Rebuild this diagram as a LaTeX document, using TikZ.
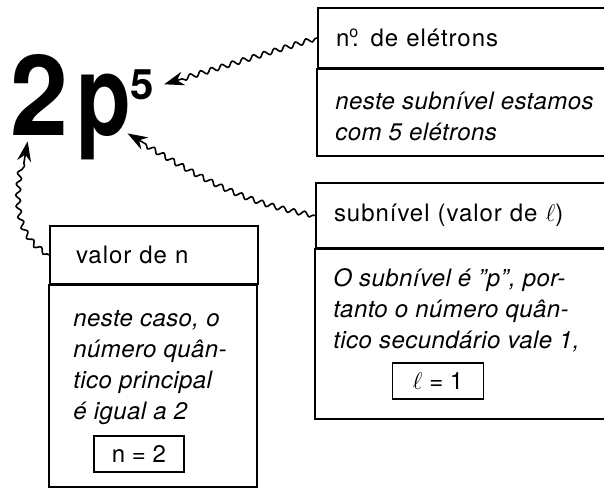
\documentclass[tikz,border=0pt]{standalone}
\usepackage{fontspec}
\setmainfont{TeX Gyre Heros}
\usetikzlibrary{arrows.meta,positioning,decorations.pathmorphing}

\begin{document}
\begin{tikzpicture}[x=0.5pt,y=0.5pt,
  box/.style={draw, line width=1pt},
  titlebox/.style={box, anchor=north west, inner xsep=9pt, inner ysep=0pt, align=left,
    font=\addfontfeature{LetterSpace=4}\fontsize{12}{15.5}\selectfont},
  bodytxt/.style={anchor=north west, inner sep=0pt, align=left,
    font=\itshape\addfontfeature{LetterSpace=1.8}\fontsize{12}{15.5}\selectfont},
  valbox/.style={draw, line width=0.7pt, minimum height=18pt, inner sep=0pt,
    font=\fontsize{12}{14}\selectfont},
  big/.style={anchor=base west, inner sep=0pt, font=\bfseries\fontsize{56}{56}\selectfont},
  wavy/.style={line width=0.8pt, -{Stealth[length=10pt,width=7pt]}, decorate,
    decoration={snake, amplitude=1.2pt, segment length=5.5pt, pre length=1pt, post length=9pt}}]

  \useasboundingbox (0,0) rectangle (604,-487);
  \clip (0,0) rectangle (604,-487);

  % the configuration 2p5
  \node[big] (num) at (10,-135) {\scalebox{0.93}[1]{2}};
  \node[big] (sub) at (76,-135) {\scalebox{0.8}[1]{p}};
  \node[anchor=base west, inner sep=0pt, font=\bfseries\fontsize{21}{21}\selectfont] (ele) at (130,-99) {5};

  % number of electrons
  \node[titlebox, text width=132pt, minimum height=30pt] (eTit) at (317,-7)
    {n\textsuperscript{o}\kern-.3em. de elétrons};
  \draw[box] (eTit.south west) rectangle ++(300,-87);
  \node[bodytxt] (eTxt) at (335,-92) {neste subnível estamos\\com 5 elétrons};

  % subshell
  \node[titlebox, text width=132pt, minimum height=32.5pt] (lTit) at (315,-182)
    {subnível (valor de $\ell$)};
  \draw[box] (lTit.south west) rectangle ++(300,-170);
  \node[bodytxt] (lTxt) at (333,-268)
    {O subnível é ''p'', por-\\tanto o número quân-\\tico secundário vale 1,};
  \node[valbox, minimum width=45.5pt] (lVal) at (438,-381) {$\ell$~=~1};

  % principal number
  \node[titlebox, inner xsep=13pt, text width=78pt, minimum height=29pt] (nTit) at (49,-225)
    {valor de n};
  \draw[box] (nTit.south west) rectangle ++(208,-202);
  \node[bodytxt] (nTxt) at (73,-310)
    {neste caso, o\\número quân-\\tico principal\\é igual a 2};
  \node[valbox, minimum width=45pt] (nVal) at (139,-454) {n~=~2};

  % wavy pointers
  \draw[wavy] (eTit.west) -- ([xshift=5pt]ele.east);
  \draw[wavy] (lTit.west) to[out=170,in=-30] ([xshift=-2pt,yshift=-2pt]sub.-25);
  \draw[wavy] (nTit.west) to[out=150,in=-100] ([yshift=-3pt]num.-106);
\end{tikzpicture}
\end{document}
